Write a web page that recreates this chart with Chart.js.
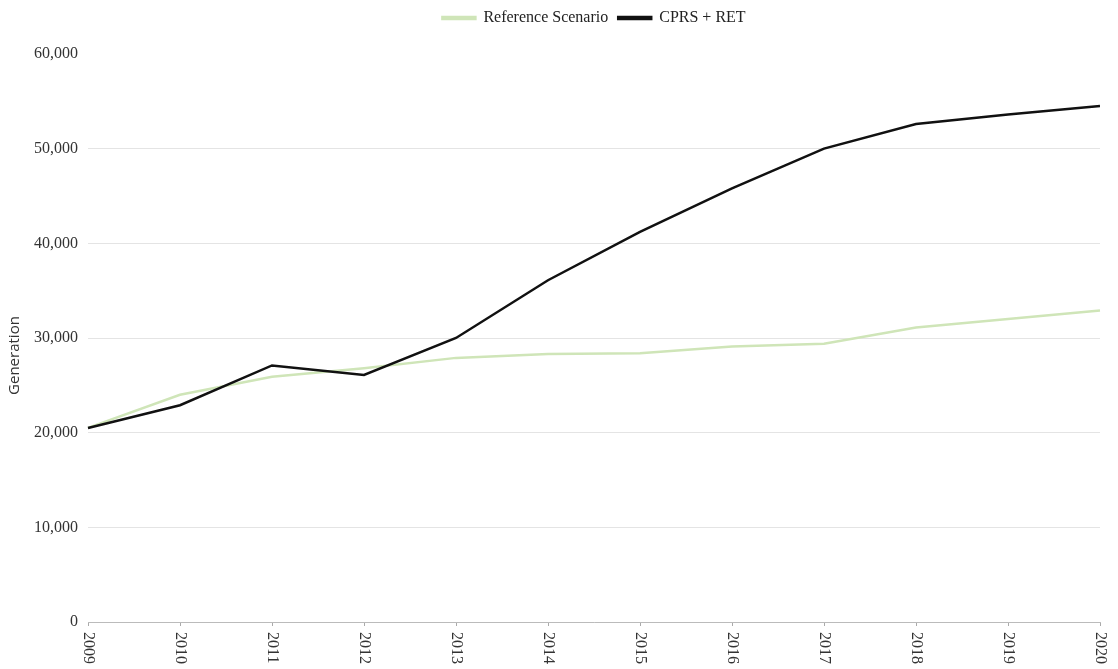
<!DOCTYPE html>
<html>
<head>
<meta charset="utf-8">
<script src="https://cdn.jsdelivr.net/npm/chart.js@4"></script>
<style>
  body { margin: 0; background: #fff; }
</style>
</head>
<body>
<canvas id="genChart" width="1118" height="669"></canvas>
<script>
// years on the x axis
const years = ['2009', '2010', '2011', '2012', '2013', '2014', '2015', '2016', '2017', '2018', '2019', '2020'];

// generation values
const referenceScenario = [20500, 24000, 25900, 26800, 27900, 28300, 28400, 29100, 29400, 31100, 32000, 32900];
const cprsRet = [20500, 22900, 27100, 26100, 30000, 36100, 41200, 45800, 50000, 52600, 53600, 54500];

const serif = 'Liberation Serif';

// year labels are drawn top-to-bottom, so draw them ourselves
const verticalYearLabels = {
    id: 'verticalYearLabels',
    afterDraw(chart) {
        const xs = chart.scales.x;
        const ctx = chart.ctx;
        ctx.save();
        ctx.font = '16px "' + serif + '"';
        ctx.fillStyle = '#333';
        ctx.textAlign = 'left';
        ctx.textBaseline = 'middle';
        years.forEach((yr, i) => {
            ctx.save();
            ctx.translate(xs.getPixelForValue(i), xs.top + 10);
            ctx.rotate(Math.PI / 2);
            ctx.fillText(yr, 0, 0);
            ctx.restore();
        });
        ctx.restore();
    }
};

// a bit more room under the legend
const legendGap = {
    id: 'legendGap',
    beforeUpdate(chart) {
        const lg = chart.legend;
        if (lg && !lg._gapPatched) {
            const fit = lg.fit;
            lg.fit = function () {
                fit.call(this);
                this.height += 18;
            };
            lg._gapPatched = true;
        }
    }
};

const ctx = document.getElementById('genChart').getContext('2d');

new Chart(ctx, {
    type: 'line',
    data: {
        labels: years,
        datasets: [
            {
                label: 'Reference Scenario',
                data: referenceScenario,
                borderColor: '#cfe5b8',
                backgroundColor: '#cfe5b8',
                borderWidth: 2.5,
                pointRadius: 0,
                order: 1
            },
            {
                label: 'CPRS + RET',
                data: cprsRet,
                borderColor: '#111',
                backgroundColor: '#111',
                borderWidth: 2.5,
                pointRadius: 0,
                order: 0
            }
        ]
    },
    options: {
        responsive: false,
        animation: false,
        layout: {
            padding: { left: 2, right: 18, top: 0, bottom: 43 }
        },
        plugins: {
            legend: {
                position: 'top',
                fullSize: false,
                labels: {
                    boxWidth: 33,
                    boxHeight: 2,
                    color: '#222',
                    font: { family: serif, size: 16 },
                    sort: (a, b) => a.datasetIndex - b.datasetIndex
                }
            },
            tooltip: { enabled: false }
        },
        scales: {
            x: {
                offset: false,
                ticks: { display: false },
                grid: {
                    drawOnChartArea: false,
                    tickColor: '#aaa',
                    tickLength: 4
                },
                border: { color: '#bbb' }
            },
            y: {
                min: 0,
                max: 60000,
                ticks: {
                    stepSize: 10000,
                    padding: 10,
                    color: '#333',
                    font: { family: serif, size: 16 },
                    callback: v => v.toLocaleString('en-US')
                },
                grid: {
                    color: c => (c.tick && c.tick.value === 60000) ? 'rgba(0,0,0,0)' : '#e4e4e4',
                    drawTicks: false
                },
                border: { display: false },
                title: {
                    display: true,
                    text: 'Generation         ',
                    color: '#333',
                    font: { family: 'Open Sans', size: 15 },
                    padding: { top: 4, bottom: 0 }
                }
            }
        }
    },
    plugins: [verticalYearLabels, legendGap]
});
</script>
</body>
</html>
